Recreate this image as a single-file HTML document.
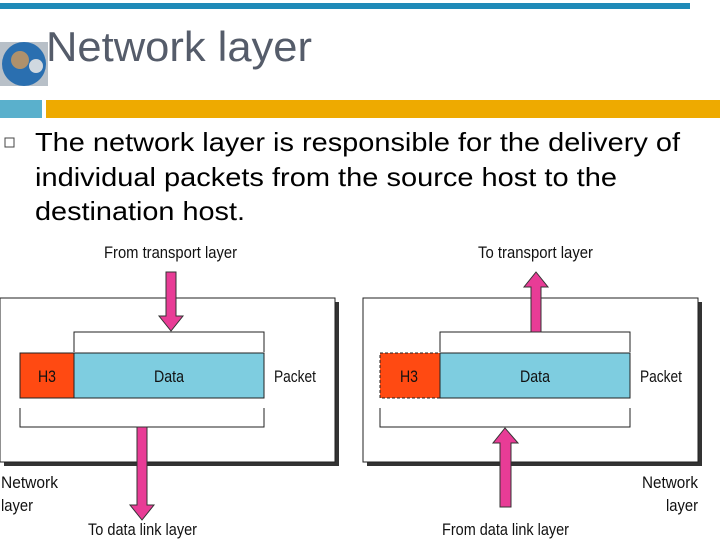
<!DOCTYPE html>
<html><head><style>
body{margin:0;width:720px;height:540px;background:#fff;overflow:hidden;position:relative;font-family:"Liberation Sans",sans-serif}
</style></head><body>
<svg width="720" height="540" style="position:absolute;left:0;top:0">
<rect x="0" y="3" width="690" height="6" fill="#1f8ab8"/>
<rect x="0" y="100" width="42" height="18" fill="#5ab0cc"/>
<rect x="46" y="100" width="674" height="18" fill="#eeaa00"/>
<rect x="0" y="42" width="48" height="44" fill="#b8c0c8"/>
<circle cx="24" cy="64" r="22" fill="#2a6fb0"/>
<circle cx="20" cy="60" r="9" fill="#e8a050" opacity="0.7"/>
<circle cx="36" cy="66" r="7" fill="#d0d8e0"/>
<text x="46" y="61" font-size="42" fill="#555c6a" textLength="266" lengthAdjust="spacingAndGlyphs" font-family="Liberation Sans,sans-serif">Network layer</text>
<rect x="5" y="138" width="9" height="9" fill="none" stroke="#444" stroke-width="1"/>
<g font-size="26" fill="#000" font-family="Liberation Sans,sans-serif">
<text x="35" y="151" textLength="645" lengthAdjust="spacingAndGlyphs">The network layer is responsible for the delivery of</text>
<text x="35" y="186" textLength="582" lengthAdjust="spacingAndGlyphs">individual packets from the source host to the</text>
<text x="35" y="220" textLength="210" lengthAdjust="spacingAndGlyphs">destination host.</text>
</g>
<!-- left -->
<rect x="4" y="302" width="335" height="164" fill="#333"/>
<rect x="0" y="298" width="335" height="164" fill="#fff" stroke="#222" stroke-width="1"/>
<polyline points="74,352 74,332 264,332 264,352" fill="none" stroke="#222"/>
<polyline points="20,408 20,427 264,427 264,408" fill="none" stroke="#222"/>
<rect x="20" y="353" width="54" height="45" fill="#ff4a12" stroke="#222"/>
<rect x="74" y="353" width="190" height="45" fill="#7ecde0" stroke="#222"/>
<polygon points="166,272 176,272 176,316 183,316 171,331 159,316 166,316" fill="#e83c96" stroke="#333" stroke-width="1"/>
<polygon points="137,427 147,427 147,505 154,505 142,520 130,505 137,505" fill="#e83c96" stroke="#333" stroke-width="1"/>
<!-- right -->
<rect x="367" y="302" width="335" height="164" fill="#333"/>
<rect x="363" y="298" width="335" height="164" fill="#fff" stroke="#222"/>
<polyline points="440,352 440,332 630,332 630,352" fill="none" stroke="#222"/>
<polyline points="380,408 380,427 630,427 630,408" fill="none" stroke="#222"/>
<rect x="380" y="353" width="60" height="45" fill="#ff4a12" stroke="#222" stroke-dasharray="3,2"/>
<rect x="440" y="353" width="190" height="45" fill="#7ecde0" stroke="#222"/>
<polygon points="531,332 541,332 541,287 548,287 536,272 524,287 531,287" fill="#e83c96" stroke="#333"/>
<polygon points="500,507 511,507 511,443 518,443 505,428 493,443 500,443" fill="#e83c96" stroke="#333"/>
<g font-family="Liberation Sans Narrow,Liberation Sans,sans-serif" font-size="17" fill="#111" lengthAdjust="spacingAndGlyphs">
<text x="104" y="258" textLength="133" lengthAdjust="spacingAndGlyphs">From transport layer</text>
<text x="478" y="258" textLength="115" lengthAdjust="spacingAndGlyphs">To transport layer</text>
<text x="88" y="535" textLength="109" lengthAdjust="spacingAndGlyphs">To data link layer</text>
<text x="442" y="535" textLength="127" lengthAdjust="spacingAndGlyphs">From data link layer</text>
<text x="1" y="488" textLength="57" lengthAdjust="spacingAndGlyphs">Network</text>
<text x="1" y="511" textLength="32" lengthAdjust="spacingAndGlyphs">layer</text>
<text x="642" y="488" textLength="56" lengthAdjust="spacingAndGlyphs">Network</text>
<text x="666" y="511" textLength="32" lengthAdjust="spacingAndGlyphs">layer</text>
<text x="274" y="382" textLength="42" lengthAdjust="spacingAndGlyphs">Packet</text>
<text x="640" y="382" textLength="42" lengthAdjust="spacingAndGlyphs">Packet</text>
<text x="38" y="382" textLength="18" lengthAdjust="spacingAndGlyphs">H3</text>
<text x="400" y="382" textLength="18" lengthAdjust="spacingAndGlyphs">H3</text>
<text x="154" y="382" textLength="30" lengthAdjust="spacingAndGlyphs">Data</text>
<text x="520" y="382" textLength="30" lengthAdjust="spacingAndGlyphs">Data</text>
</g>
</svg>
</body></html>
